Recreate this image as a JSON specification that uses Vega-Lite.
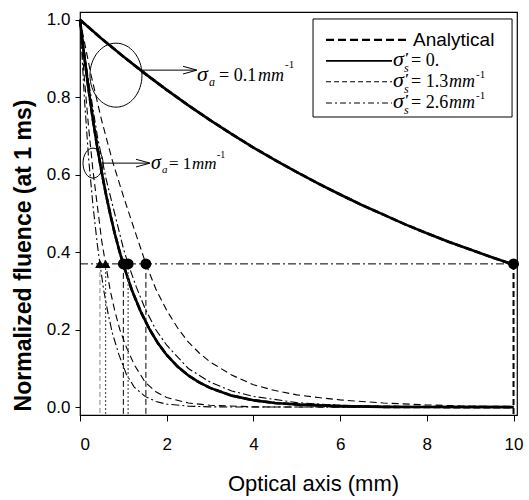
{
  "$schema": "https://vega.github.io/schema/vega-lite/v6.json",
  "autosize": {"type": "none"},
  "width": 437,
  "height": 403,
  "padding": {"left": 80, "top": 12, "right": 12, "bottom": 85},
  "background": "white",
  "config": {
    "view": {"stroke": "black", "strokeWidth": 1.2},
    "axis": {"grid": false, "domain": false, "tickColor": "black", "labelColor": "black", "titleColor": "black", "labelFont": "Liberation Sans", "titleFont": "Liberation Sans"}
  },
  "datasets": {
    "curves": [
      {"s":"A","x":0,"y":1},{"s":"A","x":0.5,"y":0.951},{"s":"A","x":1,"y":0.905},{"s":"A","x":1.5,"y":0.861},{"s":"A","x":2,"y":0.819},{"s":"A","x":2.5,"y":0.779},{"s":"A","x":3,"y":0.741},{"s":"A","x":3.5,"y":0.705},{"s":"A","x":4,"y":0.670},{"s":"A","x":4.5,"y":0.638},{"s":"A","x":5,"y":0.607},{"s":"A","x":5.5,"y":0.577},{"s":"A","x":6,"y":0.549},{"s":"A","x":6.5,"y":0.522},{"s":"A","x":7,"y":0.497},{"s":"A","x":7.5,"y":0.472},{"s":"A","x":8,"y":0.449},{"s":"A","x":8.5,"y":0.427},{"s":"A","x":9,"y":0.407},{"s":"A","x":9.5,"y":0.387},{"s":"A","x":10,"y":0.368},
      {"s":"B","x":0,"y":1},{"s":"B","x":0.1,"y":0.905},{"s":"B","x":0.2,"y":0.819},{"s":"B","x":0.3,"y":0.741},{"s":"B","x":0.4,"y":0.670},{"s":"B","x":0.5,"y":0.607},{"s":"B","x":0.6,"y":0.549},{"s":"B","x":0.7,"y":0.497},{"s":"B","x":0.8,"y":0.449},{"s":"B","x":0.9,"y":0.407},{"s":"B","x":1.0,"y":0.368},{"s":"B","x":1.2,"y":0.301},{"s":"B","x":1.4,"y":0.247},{"s":"B","x":1.6,"y":0.202},{"s":"B","x":1.8,"y":0.165},{"s":"B","x":2.0,"y":0.135},{"s":"B","x":2.25,"y":0.105},{"s":"B","x":2.5,"y":0.082},{"s":"B","x":2.75,"y":0.064},{"s":"B","x":3,"y":0.050},{"s":"B","x":3.5,"y":0.030},{"s":"B","x":4,"y":0.018},{"s":"B","x":4.5,"y":0.011},{"s":"B","x":5,"y":0.007},{"s":"B","x":6,"y":0.003},{"s":"B","x":7,"y":0.001},{"s":"B","x":8,"y":0.0005},{"s":"B","x":10,"y":0.0002},
      {"s":"C","x":0,"y":1},{"s":"C","x":0.25,"y":0.86},{"s":"C","x":0.5,"y":0.74},{"s":"C","x":0.75,"y":0.635},{"s":"C","x":1.0,"y":0.545},{"s":"C","x":1.25,"y":0.46},{"s":"C","x":1.52,"y":0.37},{"s":"C","x":1.75,"y":0.305},{"s":"C","x":2.0,"y":0.25},{"s":"C","x":2.25,"y":0.205},{"s":"C","x":2.5,"y":0.168},{"s":"C","x":2.75,"y":0.14},{"s":"C","x":3,"y":0.117},{"s":"C","x":3.5,"y":0.083},{"s":"C","x":4,"y":0.058},{"s":"C","x":4.5,"y":0.043},{"s":"C","x":5,"y":0.032},{"s":"C","x":5.5,"y":0.025},{"s":"C","x":6,"y":0.019},{"s":"C","x":6.5,"y":0.015},{"s":"C","x":7,"y":0.011},{"s":"C","x":8,"y":0.006},{"s":"C","x":9,"y":0.003},{"s":"C","x":10,"y":0.002},
      {"s":"D","x":0,"y":1},{"s":"D","x":0.2,"y":0.84},{"s":"D","x":0.4,"y":0.70},{"s":"D","x":0.6,"y":0.59},{"s":"D","x":0.8,"y":0.50},{"s":"D","x":1.0,"y":0.41},{"s":"D","x":1.11,"y":0.37},{"s":"D","x":1.3,"y":0.31},{"s":"D","x":1.5,"y":0.255},{"s":"D","x":1.75,"y":0.20},{"s":"D","x":2,"y":0.16},{"s":"D","x":2.5,"y":0.10},{"s":"D","x":3,"y":0.065},{"s":"D","x":3.5,"y":0.042},{"s":"D","x":4,"y":0.028},{"s":"D","x":5,"y":0.012},{"s":"D","x":6,"y":0.005},{"s":"D","x":7,"y":0.002},{"s":"D","x":8,"y":0.001},{"s":"D","x":10,"y":0.0005},
      {"s":"E","x":0,"y":1},{"s":"E","x":0.1,"y":0.85},{"s":"E","x":0.2,"y":0.72},{"s":"E","x":0.3,"y":0.61},{"s":"E","x":0.4,"y":0.52},{"s":"E","x":0.5,"y":0.43},{"s":"E","x":0.59,"y":0.37},{"s":"E","x":0.7,"y":0.30},{"s":"E","x":0.8,"y":0.25},{"s":"E","x":0.92,"y":0.20},{"s":"E","x":1.07,"y":0.155},{"s":"E","x":1.25,"y":0.11},{"s":"E","x":1.5,"y":0.065},{"s":"E","x":1.75,"y":0.04},{"s":"E","x":2,"y":0.025},{"s":"E","x":2.5,"y":0.011},{"s":"E","x":3,"y":0.005},{"s":"E","x":4,"y":0.001},{"s":"E","x":5,"y":0.0005},{"s":"E","x":10,"y":0.0003},
      {"s":"F","x":0,"y":1},{"s":"F","x":0.1,"y":0.80},{"s":"F","x":0.2,"y":0.64},{"s":"F","x":0.3,"y":0.52},{"s":"F","x":0.4,"y":0.42},{"s":"F","x":0.46,"y":0.37},{"s":"F","x":0.55,"y":0.30},{"s":"F","x":0.65,"y":0.24},{"s":"F","x":0.75,"y":0.19},{"s":"F","x":0.9,"y":0.135},{"s":"F","x":1.07,"y":0.085},{"s":"F","x":1.25,"y":0.052},{"s":"F","x":1.5,"y":0.028},{"s":"F","x":1.75,"y":0.015},{"s":"F","x":2,"y":0.008},{"s":"F","x":2.5,"y":0.003},{"s":"F","x":3,"y":0.001},{"s":"F","x":4,"y":0.0005},{"s":"F","x":10,"y":0.0003}
    ],
    "markers": [
      {"x":0.46,"y":0.37,"m":"tri","v":"gray"},
      {"x":0.59,"y":0.37,"m":"tri","v":"dot"},
      {"x":1.0,"y":0.37,"m":"circ","v":"dash"},
      {"x":1.11,"y":0.37,"m":"circ","v":"dot"},
      {"x":1.52,"y":0.37,"m":"circ","v":"dash"},
      {"x":10,"y":0.37,"m":"circ","v":"thick"}
    ],
    "hline": [{"x":0,"x2":10,"y":0.37}],
    "ellipses": [{"x":0.83,"y":0.857,"k":"big"},{"x":0.30,"y":0.630,"k":"small"}],
    "arrows": [{"x":1.43,"x2":2.67,"y":0.870},{"x":0.531,"x2":1.59,"y":0.630}],
    "heads": [{"x":2.537,"y":0.870},{"x":1.453,"y":0.630}],
    "box": [{"x":5.375,"x2":9.966,"y":1.002,"y2":0.749}],
    "leglines": [
      {"x":5.675,"x2":7.612,"y":0.948,"k":"anal"},
      {"x":5.675,"x2":7.197,"y":0.894,"k":"solid"},
      {"x":5.675,"x2":7.197,"y":0.840,"k":"dash"},
      {"x":5.675,"x2":7.197,"y":0.785,"k":"dashdot"}
    ],
    "labels": [
      {"k":"leg","x":7.682,"y":0.948,"t":"Analytical"},
      {"k":"sym1","x":2.699,"y":0.842,"t":"σ"},
      {"k":"sub1","x":2.976,"y":0.829,"t":"a"},
      {"k":"eq1","x":3.206,"y":0.842,"t":"= 0.1"},
      {"k":"unit1","x":4.106,"y":0.842,"t":"mm"},
      {"k":"sup1","x":4.729,"y":0.876,"t":"-1"},
      {"k":"sym2","x":1.638,"y":0.615,"t":"σ"},
      {"k":"sub2","x":1.892,"y":0.605,"t":"a"},
      {"k":"eq2","x":2.053,"y":0.615,"t":"= 1"},
      {"k":"unit2","x":2.584,"y":0.615,"t":"mm"},
      {"k":"sup2","x":3.160,"y":0.643,"t":"-1"},
      {"k":"sym1","x":7.220,"y":0.881,"t":"σ"},
      {"k":"prime","x":7.497,"y":0.889,"t":"′"},
      {"k":"sub1","x":7.474,"y":0.865,"t":"s"},
      {"k":"eq1","x":7.635,"y":0.881,"t":"= 0."},
      {"k":"sym1","x":7.220,"y":0.827,"t":"σ"},
      {"k":"prime","x":7.497,"y":0.835,"t":"′"},
      {"k":"sub1","x":7.474,"y":0.811,"t":"s"},
      {"k":"eq1","x":7.635,"y":0.827,"t":"= 1.3"},
      {"k":"unit1","x":8.512,"y":0.827,"t":"mm"},
      {"k":"sup1","x":9.135,"y":0.850,"t":"-1"},
      {"k":"sym1","x":7.220,"y":0.773,"t":"σ"},
      {"k":"prime","x":7.497,"y":0.781,"t":"′"},
      {"k":"sub1","x":7.474,"y":0.757,"t":"s"},
      {"k":"eq1","x":7.635,"y":0.773,"t":"= 2.6"},
      {"k":"unit1","x":8.512,"y":0.773,"t":"mm"},
      {"k":"sup1","x":9.135,"y":0.795,"t":"-1"}
    ]
  },
  "encoding": {
    "x": {"field": "x", "type": "quantitative", "scale": {"domain": [0, 10.08], "nice": false, "zero": false},
      "axis": {"values": [0,2,4,6,8,10], "title": "Optical axis (mm)", "tickSize": 6, "labelPadding": 15, "labelFontSize": 17, "titleFontSize": 22, "titleFontWeight": "normal", "titleX": 233, "titleY": 68, "titleBaseline": "middle", "titleAlign": "center"}},
    "y": {"field": "y", "type": "quantitative", "scale": {"domain": [-0.02, 1.02], "nice": false, "zero": false},
      "axis": {"values": [0,0.2,0.4,0.6,0.8,1.0], "format": ".1f", "title": "Normalized fluence (at 1 ms)", "tickSize": 5, "labelPadding": 5, "labelFontSize": 17, "titleFontSize": 23, "titleFontWeight": "bold", "titleX": -57, "titleY": 243, "titleBaseline": "middle", "titleAlign": "center"}}
  },
  "layer": [
    {"data": {"name": "curves"}, "transform": [{"filter": "datum.s == 'A' || datum.s == 'B'"}], "mark": {"type": "line", "color": "black", "strokeWidth": 2.6}, "encoding": {"detail": {"field": "s"}}},
    {"data": {"name": "curves"}, "transform": [{"filter": "datum.s == 'A' || datum.s == 'B'"}], "mark": {"type": "line", "color": "black", "strokeWidth": 2.6, "strokeDash": [7, 3]}, "encoding": {"detail": {"field": "s"}}},
    {"data": {"name": "curves"}, "transform": [{"filter": "datum.s == 'C' || datum.s == 'E'"}], "mark": {"type": "line", "color": "black", "strokeWidth": 1.1, "strokeDash": [7, 4]}, "encoding": {"detail": {"field": "s"}}},
    {"data": {"name": "curves"}, "transform": [{"filter": "datum.s == 'D' || datum.s == 'F'"}], "mark": {"type": "line", "color": "black", "strokeWidth": 1.1, "strokeDash": [8, 3, 2, 3]}, "encoding": {"detail": {"field": "s"}}},
    {"data": {"name": "hline"}, "mark": {"type": "rule", "color": "black", "strokeWidth": 1, "strokeDash": [8, 3, 2, 3]}, "encoding": {"x2": {"field": "x2"}}},
    {"data": {"name": "markers"}, "transform": [{"filter": "datum.v == 'gray'"}], "mark": {"type": "rule", "color": "#999999", "strokeWidth": 1.2, "strokeDash": [5, 3]}, "encoding": {"y2": {"datum": -0.02}}},
    {"data": {"name": "markers"}, "transform": [{"filter": "datum.v == 'dot'"}], "mark": {"type": "rule", "color": "#555555", "strokeWidth": 1.2, "strokeDash": [2, 2]}, "encoding": {"y2": {"datum": -0.02}}},
    {"data": {"name": "markers"}, "transform": [{"filter": "datum.v == 'dash'"}], "mark": {"type": "rule", "color": "black", "strokeWidth": 1, "strokeDash": [6, 3]}, "encoding": {"y2": {"datum": -0.02}}},
    {"data": {"name": "markers"}, "transform": [{"filter": "datum.v == 'thick'"}], "mark": {"type": "rule", "color": "black", "strokeWidth": 2, "strokeDash": [6, 3]}, "encoding": {"y2": {"datum": -0.02}}},
    {"data": {"name": "markers"}, "transform": [{"filter": "datum.m == 'circ'"}], "mark": {"type": "point", "shape": "circle", "filled": true, "color": "black", "size": 120, "opacity": 1}},
    {"data": {"name": "markers"}, "transform": [{"filter": "datum.m == 'tri'"}], "mark": {"type": "point", "shape": "triangle-up", "filled": true, "color": "black", "size": 95, "opacity": 1}},
    {"data": {"name": "ellipses"}, "transform": [{"filter": "datum.k == 'big'"}], "mark": {"type": "point", "shape": "M -0.8125 0 A 0.8125 1 0 1 0 0.8125 0 A 0.8125 1 0 1 0 -0.8125 0 Z", "filled": false, "color": "black", "strokeWidth": 1, "size": 4096, "opacity": 1}},
    {"data": {"name": "ellipses"}, "transform": [{"filter": "datum.k == 'small'"}], "mark": {"type": "point", "shape": "M -0.667 0 A 0.667 1 0 1 0 0.667 0 A 0.667 1 0 1 0 -0.667 0 Z", "filled": false, "color": "black", "strokeWidth": 1, "size": 900, "opacity": 1}},
    {"data": {"name": "arrows"}, "mark": {"type": "rule", "color": "black", "strokeWidth": 1}, "encoding": {"x2": {"field": "x2"}}},
    {"data": {"name": "heads"}, "mark": {"type": "point", "shape": "M -1 -0.55 L 1 0 L -1 0.55", "filled": false, "color": "black", "strokeWidth": 1, "size": 196, "opacity": 1}},
    {"data": {"name": "box"}, "mark": {"type": "rect", "fill": "white", "stroke": "black", "strokeWidth": 1}, "encoding": {"x2": {"field": "x2"}, "y2": {"field": "y2"}}},
    {"data": {"name": "leglines"}, "transform": [{"filter": "datum.k == 'anal'"}], "mark": {"type": "rule", "color": "black", "strokeWidth": 2.2, "strokeDash": [8, 4]}, "encoding": {"x2": {"field": "x2"}}},
    {"data": {"name": "leglines"}, "transform": [{"filter": "datum.k == 'solid'"}], "mark": {"type": "rule", "color": "black", "strokeWidth": 1.6}, "encoding": {"x2": {"field": "x2"}}},
    {"data": {"name": "leglines"}, "transform": [{"filter": "datum.k == 'dash'"}], "mark": {"type": "rule", "color": "black", "strokeWidth": 1.1, "strokeDash": [5, 3]}, "encoding": {"x2": {"field": "x2"}}},
    {"data": {"name": "leglines"}, "transform": [{"filter": "datum.k == 'dashdot'"}], "mark": {"type": "rule", "color": "black", "strokeWidth": 1.1, "strokeDash": [6, 3, 2, 3]}, "encoding": {"x2": {"field": "x2"}}},
    {"data": {"name": "labels"}, "transform": [{"filter": "datum.k == 'leg'"}], "mark": {"type": "text", "align": "left", "baseline": "middle", "font": "Liberation Sans", "fontSize": 19, "color": "black"}, "encoding": {"text": {"field": "t"}}},
    {"data": {"name": "labels"}, "transform": [{"filter": "datum.k == 'sym1'"}], "mark": {"type": "text", "align": "left", "baseline": "alphabetic", "font": "Liberation Serif", "fontStyle": "italic", "fontSize": 22, "color": "black"}, "encoding": {"text": {"field": "t"}}},
    {"data": {"name": "labels"}, "transform": [{"filter": "datum.k == 'sym2'"}], "mark": {"type": "text", "align": "left", "baseline": "alphabetic", "font": "Liberation Serif", "fontStyle": "italic", "fontSize": 20, "color": "black"}, "encoding": {"text": {"field": "t"}}},
    {"data": {"name": "labels"}, "transform": [{"filter": "datum.k == 'sub1'"}], "mark": {"type": "text", "align": "left", "baseline": "alphabetic", "font": "Liberation Serif", "fontStyle": "italic", "fontSize": 12, "color": "black"}, "encoding": {"text": {"field": "t"}}},
    {"data": {"name": "labels"}, "transform": [{"filter": "datum.k == 'sub2'"}], "mark": {"type": "text", "align": "left", "baseline": "alphabetic", "font": "Liberation Serif", "fontStyle": "italic", "fontSize": 11, "color": "black"}, "encoding": {"text": {"field": "t"}}},
    {"data": {"name": "labels"}, "transform": [{"filter": "datum.k == 'eq1'"}], "mark": {"type": "text", "align": "left", "baseline": "alphabetic", "font": "Liberation Serif", "fontSize": 18, "color": "black"}, "encoding": {"text": {"field": "t"}}},
    {"data": {"name": "labels"}, "transform": [{"filter": "datum.k == 'eq2'"}], "mark": {"type": "text", "align": "left", "baseline": "alphabetic", "font": "Liberation Serif", "fontSize": 17, "color": "black"}, "encoding": {"text": {"field": "t"}}},
    {"data": {"name": "labels"}, "transform": [{"filter": "datum.k == 'unit1'"}], "mark": {"type": "text", "align": "left", "baseline": "alphabetic", "font": "Liberation Serif", "fontStyle": "italic", "fontSize": 18, "color": "black"}, "encoding": {"text": {"field": "t"}}},
    {"data": {"name": "labels"}, "transform": [{"filter": "datum.k == 'unit2'"}], "mark": {"type": "text", "align": "left", "baseline": "alphabetic", "font": "Liberation Serif", "fontStyle": "italic", "fontSize": 17, "color": "black"}, "encoding": {"text": {"field": "t"}}},
    {"data": {"name": "labels"}, "transform": [{"filter": "datum.k == 'sup1'"}], "mark": {"type": "text", "align": "left", "baseline": "alphabetic", "font": "Liberation Serif", "fontSize": 11, "color": "black"}, "encoding": {"text": {"field": "t"}}},
    {"data": {"name": "labels"}, "transform": [{"filter": "datum.k == 'sup2'"}], "mark": {"type": "text", "align": "left", "baseline": "alphabetic", "font": "Liberation Serif", "fontSize": 10, "color": "black"}, "encoding": {"text": {"field": "t"}}},
    {"data": {"name": "labels"}, "transform": [{"filter": "datum.k == 'prime'"}], "mark": {"type": "text", "align": "left", "baseline": "alphabetic", "font": "Liberation Serif", "fontSize": 15, "fontWeight": "bold", "color": "black"}, "encoding": {"text": {"field": "t"}}}
  ]
}
